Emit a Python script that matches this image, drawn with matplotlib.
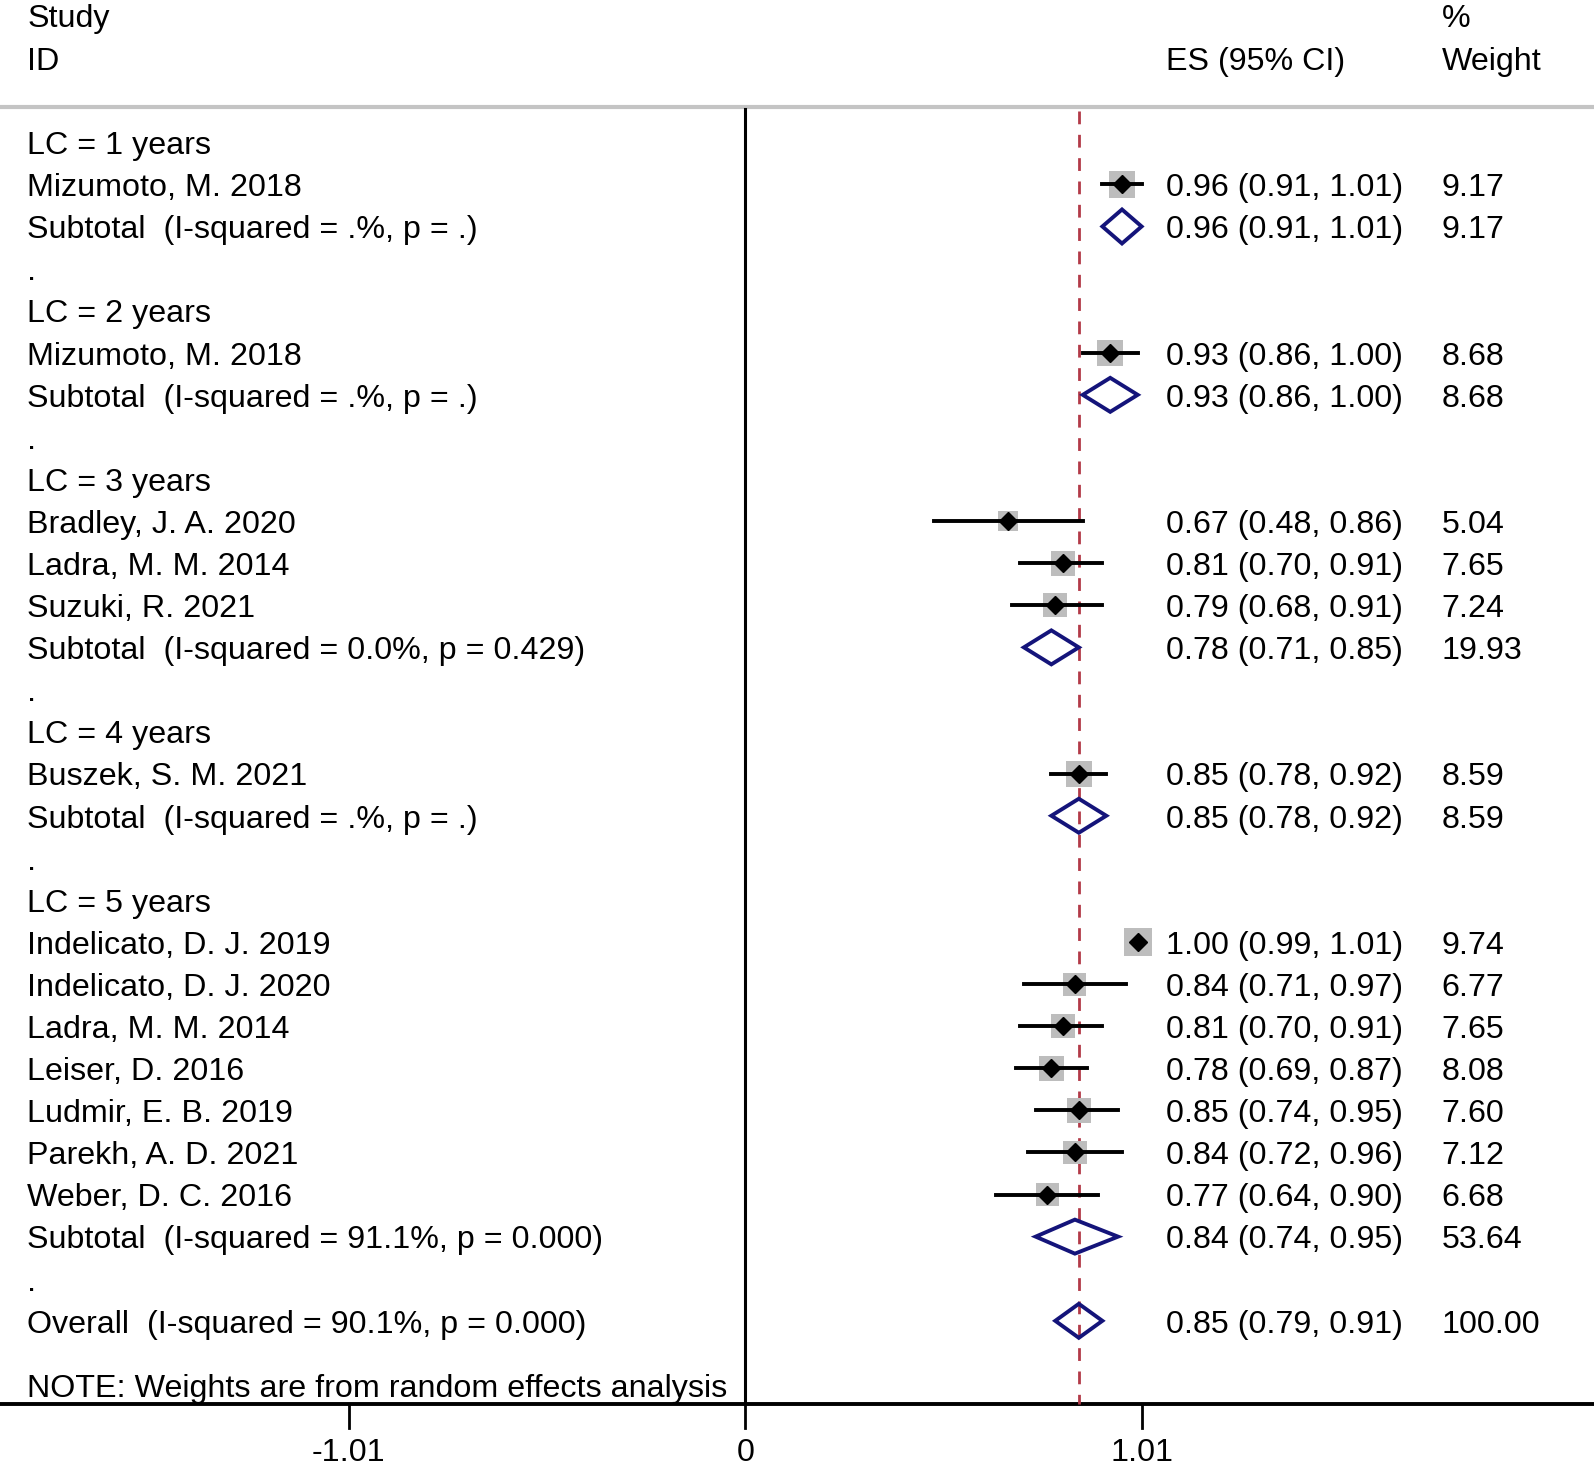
import numpy as np
import matplotlib.pyplot as plt
from matplotlib.patches import Rectangle, Polygon

plt.rcParams['font.family'] = ['Liberation Sans', 'DejaVu Sans']

# Rows of the forest plot, top to bottom
labels = [
    "LC = 1 years", "Mizumoto, M. 2018", "Subtotal  (I-squared = .%, p = .)", ".",
    "LC = 2 years", "Mizumoto, M. 2018", "Subtotal  (I-squared = .%, p = .)", ".",
    "LC = 3 years", "Bradley, J. A. 2020", "Ladra, M. M. 2014", "Suzuki, R. 2021",
    "Subtotal  (I-squared = 0.0%, p = 0.429)", ".",
    "LC = 4 years", "Buszek, S. M. 2021", "Subtotal  (I-squared = .%, p = .)", ".",
    "LC = 5 years", "Indelicato, D. J. 2019", "Indelicato, D. J. 2020", "Ladra, M. M. 2014",
    "Leiser, D. 2016", "Ludmir, E. B. 2019", "Parekh, A. D. 2021", "Weber, D. C. 2016",
    "Subtotal  (I-squared = 91.1%, p = 0.000)", ".",
    "Overall  (I-squared = 90.1%, p = 0.000)",
]
kinds = ["g", "s", "t", "d",
         "g", "s", "t", "d",
         "g", "s", "s", "s", "t", "d",
         "g", "s", "t", "d",
         "g", "s", "s", "s", "s", "s", "s", "s", "t", "d",
         "o"]
nan = np.nan
es = [nan, 0.96, 0.96, nan,
      nan, 0.93, 0.93, nan,
      nan, 0.67, 0.81, 0.79, 0.78, nan,
      nan, 0.85, 0.85, nan,
      nan, 1.00, 0.84, 0.81, 0.78, 0.85, 0.84, 0.77, 0.84, nan,
      0.85]
lo = [nan, 0.91, 0.91, nan,
      nan, 0.86, 0.86, nan,
      nan, 0.48, 0.70, 0.68, 0.71, nan,
      nan, 0.78, 0.78, nan,
      nan, 0.99, 0.71, 0.70, 0.69, 0.74, 0.72, 0.64, 0.74, nan,
      0.79]
hi = [nan, 1.01, 1.01, nan,
      nan, 1.00, 1.00, nan,
      nan, 0.86, 0.91, 0.91, 0.85, nan,
      nan, 0.92, 0.92, nan,
      nan, 1.01, 0.97, 0.91, 0.87, 0.95, 0.96, 0.90, 0.95, nan,
      0.91]
weights = [nan, 9.17, 9.17, nan,
           nan, 8.68, 8.68, nan,
           nan, 5.04, 7.65, 7.24, 19.93, nan,
           nan, 8.59, 8.59, nan,
           nan, 9.74, 6.77, 7.65, 8.08, 7.60, 7.12, 6.68, 53.64, nan,
           100.00]
tick_vals = [-1.01, 0, 1.01]
tick_labels = ["-1.01", "0", "1.01"]
overall_es = 0.85

# pixel geometry of the reference
PX_X = 392.5   # px per unit on x
PX_Y = 42.09   # px per row
X0 = 745.2     # px where x = 0
Y0 = 142.3     # px of first row
W, H = 1594, 1467

fig = plt.figure(figsize=(W / 100, H / 100), dpi=100)
ax = fig.add_axes([0, 0, 1, 1])
ax.set_xlim(-X0 / PX_X, (W - X0) / PX_X)
ax.set_ylim((H - Y0) / PX_Y, -Y0 / PX_Y)
ax.axis('off')

FS = 23.2
DY = 0.09   # text sits a touch lower than the marks
xl = (27.4 - X0) / PX_X
xes = (1166 - X0) / PX_X
xw = (1441.6 - X0) / PX_X
top_row = -0.84
axis_row = 29.98

# headers
ax.text(xl, -3.02 + DY, "Study", fontsize=FS, va='center', ha='left')
ax.text(xl, -2.0 + DY, "ID", fontsize=FS, va='center', ha='left')
ax.text(xes, -2.0 + DY, "ES (95% CI)", fontsize=FS, va='center', ha='left')
ax.text(xw, -3.02 + DY, "%", fontsize=FS, va='center', ha='left')
ax.text(xw, -2.0 + DY, "Weight", fontsize=FS, va='center', ha='left')

# top separator and axis lines
ax.plot(ax.get_xlim(), [top_row, top_row], color='#c4c4c4', lw=3, solid_capstyle='butt')
ax.plot(ax.get_xlim(), [axis_row, axis_row], color='black', lw=2.8, solid_capstyle='butt')
ax.plot([0, 0], [top_row + 0.05, axis_row], color='black', lw=2.2)
ax.plot([overall_es, overall_es], [top_row + 0.1, axis_row], color='#b23a48', lw=2,
        dashes=(4.6, 3.8))

for tv, tl in zip(tick_vals, tick_labels):
    ax.plot([tv, tv], [axis_row, 30.55], color='black', lw=2)
    ax.text(tv, 31.05 + DY, tl, fontsize=FS, ha='center', va='center')

for r, (lab, k) in enumerate(zip(labels, kinds)):
    ax.text(xl, r + DY, lab, fontsize=FS, va='center', ha='left')
    if k == 's':
        side = 8.9 * np.sqrt(weights[r])
        bw, bh = side / PX_X, side / PX_Y
        ax.add_patch(Rectangle((es[r] - bw / 2, r - bh / 2), bw, bh,
                               facecolor='#bdbdbd', edgecolor='none', zorder=2))
        ax.plot([lo[r], hi[r]], [r, r], color='black', lw=2.8, zorder=3)
        ax.plot([es[r]], [r], marker='D', ms=9.5, color='black', zorder=4)
    if k in ('t', 'o'):
        hh = 17 / PX_Y
        ax.add_patch(Polygon([[lo[r], r], [es[r], r - hh], [hi[r], r], [es[r], r + hh]],
                             closed=True, facecolor='none', edgecolor='#14147a',
                             lw=2.8, zorder=3))
    if k in ('s', 't', 'o'):
        ax.text(xes, r + DY, f"{es[r]:.2f} ({lo[r]:.2f}, {hi[r]:.2f})", fontsize=FS,
                va='center', ha='left')
        ax.text(xw, r + DY, f"{weights[r]:.2f}", fontsize=FS, va='center', ha='left')

ax.text(xl, 29.52 + DY, "NOTE: Weights are from random effects analysis", fontsize=FS,
        va='center', ha='left')

fig.savefig("out.png", dpi=100)
